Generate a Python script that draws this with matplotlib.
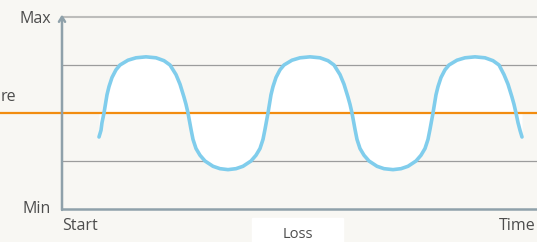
"""Oscillation around the average between Min and Max."""
import matplotlib
matplotlib.use('Agg')
import matplotlib.pyplot as plt
import numpy as np

# time units (0 = Start) and values (0 = Min, 4 = Max, 2 = average line)
time = [37, 39, 40,
        42, 45, 47, 50, 54, 58, 66, 74, 84, 94, 102, 108, 114, 118, 122, 124,
        126, 129, 131, 134, 138, 143, 151, 158, 166, 174, 181, 189, 194, 198,
        201, 203,
        206, 209, 211, 214, 218, 222, 230, 238, 248, 258, 266, 272, 278, 282,
        286, 288,
        290, 293, 295, 298, 302, 307, 315, 322, 331, 339, 346, 354, 359, 363,
        366, 368,
        371, 374, 376, 379, 383, 387, 395, 403, 413, 423, 431, 437, 442, 446,
        450, 452,
        454, 456, 458, 460]
value = [1.50, 1.64, 1.80,
         2.00, 2.38, 2.55, 2.74, 2.90, 3.00, 3.10, 3.15, 3.17, 3.15, 3.09, 3.00,
         2.80, 2.60, 2.33, 2.18,
         2.00, 1.66, 1.45, 1.26, 1.12, 1.00, 0.89, 0.84, 0.82, 0.84, 0.89, 1.00,
         1.12, 1.26, 1.45, 1.66,
         2.00, 2.38, 2.55, 2.74, 2.90, 3.00, 3.10, 3.15, 3.17, 3.15, 3.09, 3.00,
         2.80, 2.60, 2.33, 2.18,
         2.00, 1.66, 1.45, 1.26, 1.12, 1.00, 0.89, 0.84, 0.82, 0.84, 0.89, 1.00,
         1.12, 1.26, 1.45, 1.66,
         2.00, 2.38, 2.55, 2.74, 2.90, 3.00, 3.10, 3.15, 3.17, 3.15, 3.09, 3.00,
         2.80, 2.60, 2.33, 2.18,
         2.00, 1.80, 1.64, 1.50]
average = 2.0
grid_levels = [1, 3]
y_min, y_max = 0, 4

bg = '#f8f7f3'
txt = '#4d4d4d'
plt.rcParams['font.family'] = ['Open Sans', 'DejaVu Sans']

W, H = 537, 242
fig = plt.figure(figsize=(W / 100, H / 100), dpi=100, facecolor=bg)
ax = fig.add_axes([62 / W, 33 / H, 480 / W, 192 / H])
ax.set_facecolor(bg)
ax.set_xlim(0, 480)
ax.set_ylim(y_min, y_max)

t = np.array(time)
v = np.array(value)
ax.fill_between(t, v, average, color='white', zorder=1, linewidth=0)

for g in grid_levels:
    ax.axhline(g, color='#9c9c9c', lw=0.9, zorder=0.5)
ax.axhline(y_max, color='#bdbdbb', lw=1.5, zorder=0.5, clip_on=False)
ax.axhline(average, xmin=-0.2, xmax=1.1, color='#f28c0f', lw=1.6,
           zorder=2, clip_on=False)

ax.plot(t, v, color='#80cdec', lw=2.6, solid_capstyle='round',
        solid_joinstyle='round', zorder=3)

for s in ['top', 'right', 'left']:
    ax.spines[s].set_visible(False)
ax.spines['bottom'].set_color('#8fa1aa')
ax.spines['bottom'].set_linewidth(1.8)
ax.annotate('', xy=(0, y_max + 0.05), xytext=(0, y_min - 0.02),
            arrowprops=dict(arrowstyle='->,head_length=0.35,head_width=0.22',
                            color='#8fa1aa', lw=1.8, shrinkA=0, shrinkB=0),
            annotation_clip=False, zorder=4)
ax.set_xticks([])
ax.set_yticks([])

fs = 11.5
fig.text(51 / W, 1 - 19 / H, 'Max', ha='right', va='center', fontsize=fs, color=txt)
fig.text(51 / W, 1 - 209 / H, 'Min', ha='right', va='center', fontsize=fs, color=txt)
fig.text(0.5 / W, 1 - 97 / H, 're', ha='left', va='center', fontsize=fs, color=txt)
fig.text(62 / W, 1 - 226 / H, 'Start', ha='left', va='center', fontsize=fs, color=txt)
fig.text(499 / W, 1 - 226 / H, 'Time', ha='left', va='center', fontsize=fs, color=txt)

fig.patches.append(plt.Rectangle((252 / W, 0), 91 / W, 24 / H, color='white',
                                 transform=fig.transFigure, figure=fig))
fig.text(298 / W, 1 - 235 / H, 'Loss', ha='center', va='center', fontsize=10.5, color=txt)

fig.savefig('out.png', dpi=100, facecolor=bg)
